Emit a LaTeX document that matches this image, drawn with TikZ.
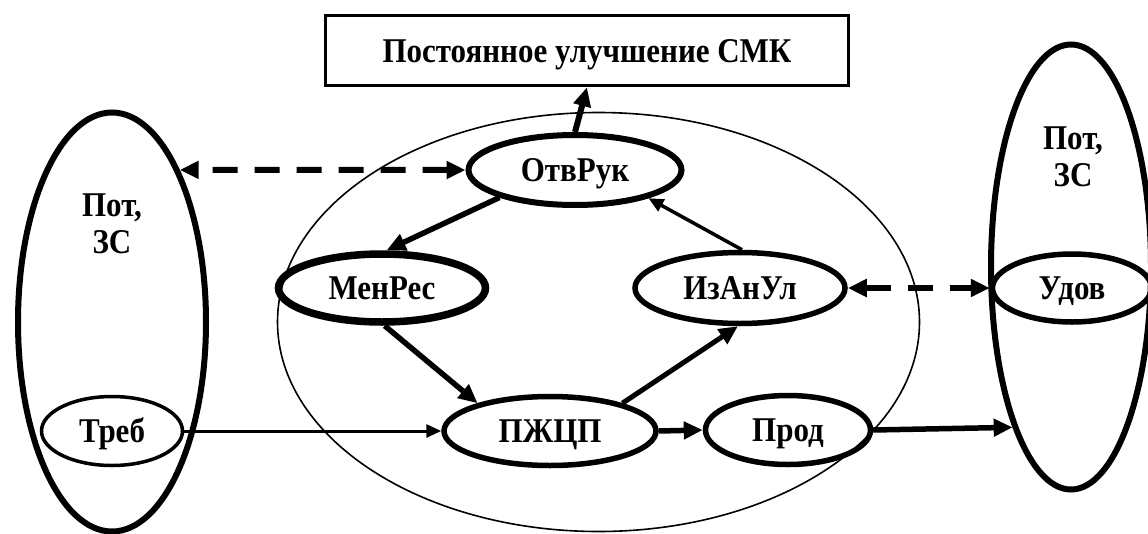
\documentclass[tikz,border=0pt]{standalone}
\usepackage{fontspec}
\setmainfont{Liberation Serif}
\usetikzlibrary{shapes.geometric,arrows.meta}
\newcommand\tallt[1]{\scalebox{1}[1.12]{#1}}
\tikzset{
  lbl/.style={font=\fontsize{31}{37}\selectfont\bfseries},
  capc/.style={text height=23pt, text depth=0pt},
  oval/.style={ellipse, draw, inner sep=0pt, lbl, capc},
  bigoval/.style={ellipse, draw, inner sep=0pt},
  tipbig/.style={-{Triangle[length=19pt,width=17pt]}},
  tipthin/.style={-{Triangle[length=15pt,width=13pt]}},
  dtip/.style={{Triangle[length=19pt,width=17pt]}-{Triangle[length=19pt,width=17pt]}},
  dashfive/.style={dash pattern=on 25pt off 17pt},
}
\begin{document}
\begin{tikzpicture}[x=1pt,y=-1pt]
\useasboundingbox (0,0) rectangle (1148,533);
% large ellipses
\node[bigoval, line width=1.6pt, minimum width=642pt, minimum height=419pt] (bigE) at (598.5,322) {};
\node[bigoval, line width=6pt, minimum width=188pt, minimum height=419pt] (leftE) at (112,322) {};
\node[bigoval, line width=6pt, minimum width=160pt, minimum height=445pt] (rightE) at (1071,267) {};
\node[lbl, align=center] (lt) at (112,224) {\tallt{Пот,}\\\tallt{ЗС}};
\node[lbl, align=center] (rt) at (1073,157) {\tallt{Пот,}\\\tallt{ЗС}};
% box
\node[draw, line width=3.5pt, lbl, capc, minimum width=523pt, minimum height=70pt, inner sep=0pt] (box) at (587,50.5) {\tallt{Постоянное улучшение СМК}};
% ovals
\node[oval, line width=6pt, minimum width=213pt, minimum height=70pt] (otv) at (575,170) {\tallt{ОтвРук}};
\node[oval, line width=7.5pt, minimum width=207pt, minimum height=68pt] (men) at (382,288) {\tallt{МенРес}};
\node[oval, line width=5.5pt, minimum width=210pt, minimum height=71pt] (izan) at (740,288) {\tallt{ИзАнУл}};
\node[oval, line width=5.5pt, minimum width=212pt, minimum height=69pt] (pzh) at (550,431) {\tallt{ПЖЦП}};
\node[oval, line width=5.5pt, minimum width=165pt, minimum height=69pt] (prod) at (788,430) {\tallt{Прод}};
\node[oval, line width=3.5pt, minimum width=141pt, minimum height=69pt] (treb) at (112,431) {\tallt{Треб}};
\node[oval, line width=5.5pt, minimum width=159pt, minimum height=68pt] (udov) at (1072,288) {\tallt{Удов}};
% connectors
\draw[line width=6pt, tipbig] (otv.north) -- (box.south);
\draw[line width=5.5pt, tipbig] (otv.200) -- (men.83);
\draw[line width=5.5pt, tipbig] (men.274) -- (pzh.159);
\draw[line width=5pt, tipbig] (pzh.21) -- (izan.267);
\draw[line width=3.5pt, tipthin] (izan.87) -- (otv.339);
\draw[line width=3pt, tipthin] (treb.east) -- (pzh.west);
\draw[line width=5.5pt, tipbig] (pzh.east) -- (prod.west);
\draw[line width=5.5pt, tipbig] (prod.east) -- (rightE.250);
\draw[line width=6pt, dashfive, dtip] (otv.west) -- (leftE.66);
\draw[line width=6pt, dashfive, dtip] (izan.east) -- (udov.west);
\end{tikzpicture}
\end{document}
